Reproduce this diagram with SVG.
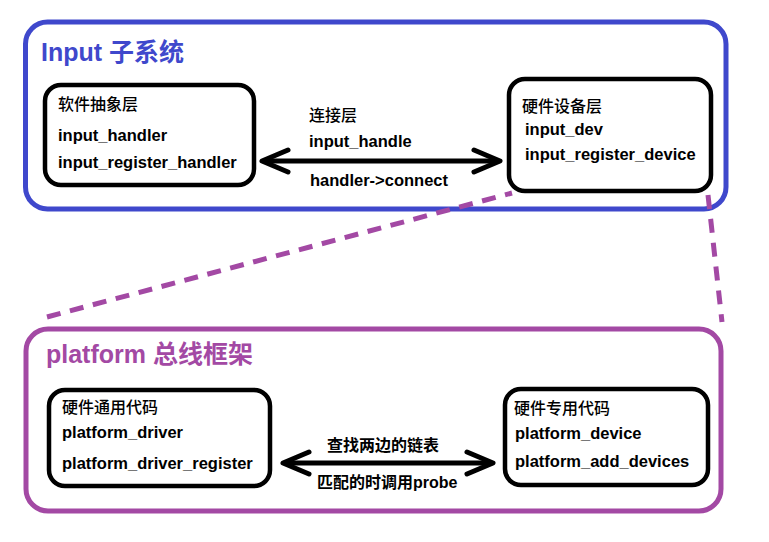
<svg xmlns="http://www.w3.org/2000/svg" width="769" height="542" viewBox="0 0 769 542">
<style>
text{font-family:"Liberation Sans","Noto Sans CJK SC",sans-serif;fill:#000}
.b{font-weight:bold;font-size:16.5px}
.h{font-size:16px;font-weight:500}
.lb{font-weight:bold;font-size:16px}
.t1{font-weight:bold;font-size:25px;fill:#3F48CC}
.t2{font-weight:bold;font-size:25px;fill:#A349A4}
.node{fill:#fff;stroke:#000;stroke-width:4.5}
.dash{fill:none;stroke:#A349A4;stroke-width:5;stroke-dasharray:14 10}
.arrow{stroke:#000;stroke-width:5;fill:none}
</style>
<defs>
<marker id="chev" markerUnits="userSpaceOnUse" viewBox="-30 -16 38 32" refX="0" refY="0" markerWidth="38" markerHeight="32" orient="auto-start-reverse">
<path d="M -23 -11 L 3 0 L -23 11" fill="none" stroke="#000" stroke-width="5" stroke-linecap="round" stroke-linejoin="round"/>
</marker>
</defs>
<rect width="769" height="542" fill="#fff"/>
<g id="input-subsystem">
<rect x="25.5" y="22" width="700.5" height="187" rx="22" fill="none" stroke="#3F48CC" stroke-width="5"/>
<text class="t1" x="41" y="61">Input 子系统</text>
</g>
<g id="platform-bus">
<rect x="26" y="329" width="695" height="182" rx="22" fill="none" stroke="#A349A4" stroke-width="5"/>
<text class="t2" x="46" y="363">platform 总线框架</text>
</g>
<g id="connectors">
<path class="dash" d="M 47 317 L 512 193" style="stroke-dasharray:14 9.7"/>
<path class="dash" d="M 708 195 L 722 322"/>
<line class="arrow" x1="265" y1="161" x2="497" y2="161" marker-start="url(#chev)" marker-end="url(#chev)"/>
<line class="arrow" x1="286" y1="463" x2="490" y2="463" marker-start="url(#chev)" marker-end="url(#chev)"/>
<text class="h" x="309" y="121">连接层</text>
<text class="b" x="309" y="147">input_handle</text>
<text class="b" x="310" y="186">handler-&gt;connect</text>
<text class="lb" x="327" y="451">查找两边的链表</text>
<text class="lb" x="317" y="488">匹配的时调用probe</text>
</g>
<g id="soft-abstract">
<rect class="node" x="45" y="85" width="209" height="100" rx="16"/>
<text class="h" x="58" y="110">软件抽象层</text>
<text class="b" x="58" y="141">input_handler</text>
<text class="b" x="58" y="168">input_register_handler</text>
</g>
<g id="hw-device">
<rect class="node" x="509" y="79" width="202" height="112" rx="16"/>
<text class="h" x="522" y="112">硬件设备层</text>
<text class="b" x="525" y="135">input_dev</text>
<text class="b" x="525" y="160">input_register_device</text>
</g>
<g id="hw-generic">
<rect class="node" x="49" y="390" width="221" height="96" rx="16"/>
<text class="h" x="62" y="413">硬件通用代码</text>
<text class="b" x="62" y="438">platform_driver</text>
<text class="b" x="62" y="469">platform_driver_register</text>
</g>
<g id="hw-specific">
<rect class="node" x="505" y="389" width="203" height="96" rx="16"/>
<text class="h" x="514" y="414">硬件专用代码</text>
<text class="b" x="515" y="439">platform_device</text>
<text class="b" x="515" y="467">platform_add_devices</text>
</g>
</svg>
